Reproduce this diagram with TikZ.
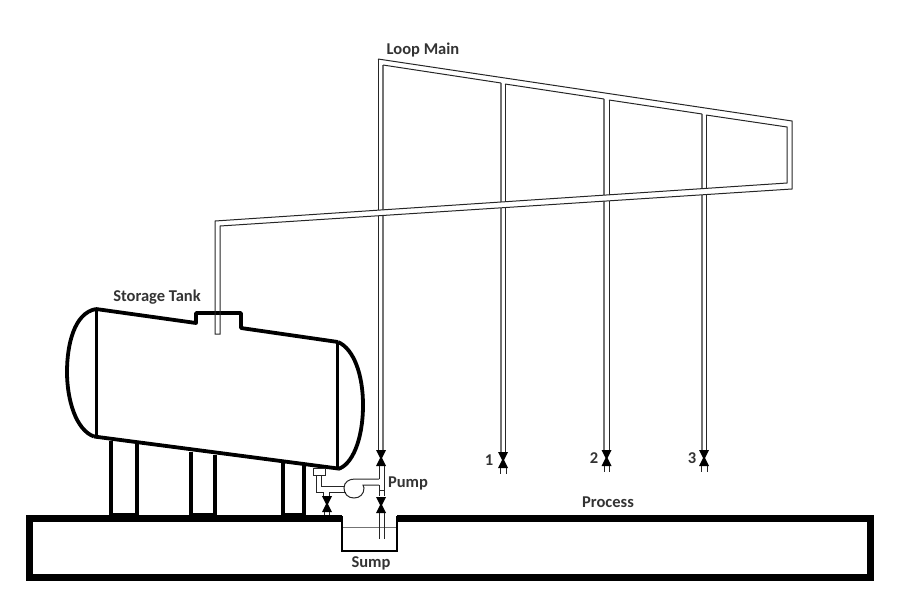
\documentclass[tikz,border=0pt]{standalone}
\usepackage{fontspec}
\setmainfont{Carlito}
\tikzset{
  pipe/.style={line width=1pt,color=black!85},
  pipeb/.style={line width=1.2pt,color=black!55},
  tank/.style={line width=3.8pt,line join=round},
  floorline/.style={line width=7pt,line join=miter},
  label/.style={font=\bfseries\fontsize{16.5}{18}\selectfont,color=black!80,inner sep=0pt},
}
% valve: centre x, centre y
\def\valve#1#2{
  \fill (#1-5,#2-8) -- (#1+5,#2-8) -- (#1+1,#2) -- (#1+5,#2+8) -- (#1-5,#2+8) -- (#1-1,#2) -- cycle;
}
\begin{document}
\begin{tikzpicture}[x=1pt,y=-1pt]
  \useasboundingbox (0,0) rectangle (900,600);
  % ground and sump
  \draw[floorline] (342,518.5) -- (29.5,518.5) -- (29.5,577.5) -- (870.5,577.5) -- (870.5,518.5) -- (397,518.5);
  \draw[line width=2.8pt] (342,516) -- (342,551) -- (397,551) -- (397,516);
  \draw[line width=0.8pt,color=black!55] (343,527) -- (396,527);
  % legs
  \draw[line width=3.8pt] (111,441) -- (111,516) (137,444) -- (137,516);
  \draw[line width=3.8pt] (191,452) -- (191,516) (215,455) -- (215,516);
  \draw[line width=3.8pt] (283,462) -- (283,516) (304,465) -- (304,516);
  \draw[line width=3pt] (111,514) -- (137,514) (191,514) -- (215,514) (283,514) -- (304,514);
  % storage tank
  \draw[tank] (96,309) -- (196,323) -- (196,313) -- (241,313) -- (241,328) -- (338,342);
  \draw[tank] (94,436.5) -- (338,468.5);
  \draw[line width=3pt] (96,309) -- (96,437) (337,342) -- (337,469);
  \draw[tank] (96,309) .. controls (74,313) and (67,345) .. (67,372) .. controls (67,400) and (76,430) .. (94,436.5);
  \draw[tank] (338,342) .. controls (354,349) and (363,375) .. (363,405) .. controls (363,440) and (352,465) .. (338,469);
  % drops from the loop
  \foreach \xa/\ya/\xb/\yb/\yv in {383/65/378/59/452,501/83/505/84/454,604/99/609/100/452,702/114/706/115/452}{
    \draw[pipeb] (\xa,\ya) -- (\xa,\yv);
    \draw[pipe] (\xb,\yb) -- (\xb,\yv);
  }
  % loop main and return to the tank
  \fill[white] (215,221) -- (787,183) -- (792,189) -- (220,226) -- cycle;
  \draw[pipe,line join=miter] (378,59) -- (792,121) -- (792,189) -- (220,226) -- (220,334) -- (215,334) -- (215,221) -- (787,183) -- (787,127) -- (706,115);
  \draw[pipe] (609,100) -- (702,114) (505,84) -- (604,99) (383,65) -- (501,83);
  % valves at the process
  \valve{381}{458}
  \valve{503}{460}
  \valve{606.5}{458}
  \valve{704}{458}
  \draw[pipe] (500,468) -- (500,474) (506,468) -- (506,474);
  \draw[pipe] (604,466) -- (604,472) (609,466) -- (609,472);
  \draw[pipe] (701,466) -- (701,472) (707,466) -- (707,472);
  % pump and suction line
  \draw[pipe] (313,468) rectangle (325,475);
  \draw[pipe] (316,475) -- (316,492) -- (323,492) -- (323,496);
  \draw[pipe] (321,475) -- (321,486) -- (344,486);
  \draw[pipe] (329,496) -- (329,492) -- (346,492);
  \draw[pipe] (379,479) -- (355,479) .. controls (349,479) and (344,482) .. (344,488) .. controls (344,494) and (348,498) .. (354,498) .. controls (360,498) and (364,494) .. (364,488) .. controls (364,487) .. (363,485) -- (379,485);
  \draw[pipe] (379,466) -- (379,479) (379,485) -- (379,496) (384,466) -- (384,496) (379,490) -- (384,490);
  \valve{381}{505}
  \valve{327}{504}
  \draw[pipe] (379,513) -- (379,539) (384,513) -- (384,539);
  \draw[pipe] (324,512) -- (324,515) (329,512) -- (329,515);
  % labels
  \node[label] (looplbl) at (423,50) {Loop Main};
  \node[label] (tanklbl) at (157,297) {Storage Tank};
  \node[label] (pumplbl) at (408,483) {Pump};
  \node[label] (sumplbl) at (371,563) {Sump};
  \node[label] (proclbl) at (608,502) {Process};
  \node[label] (onelbl) at (489,460) {1};
  \node[label] (twolbl) at (594,458) {2};
  \node[label] (threelbl) at (692,458) {3};
\end{tikzpicture}
\end{document}
